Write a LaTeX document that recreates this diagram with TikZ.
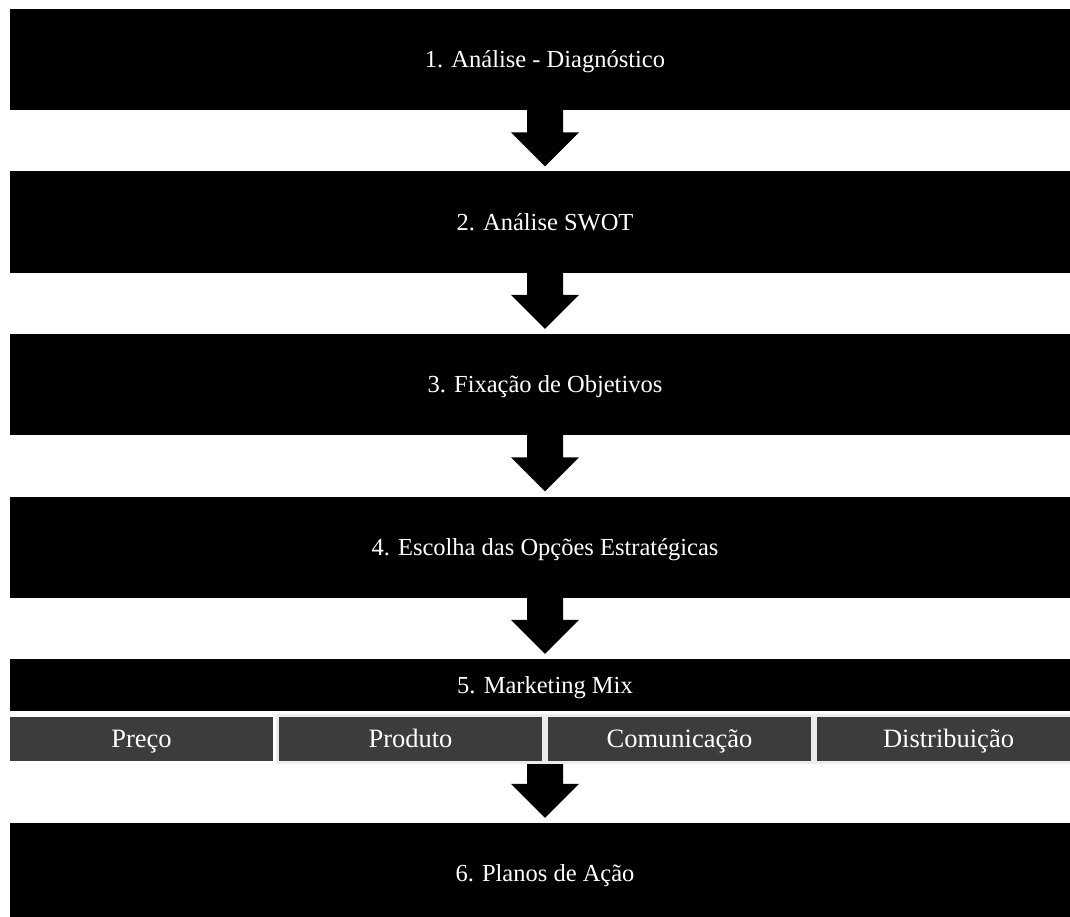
\documentclass[tikz,border=0pt]{standalone}
\usepackage{fontspec}
\setmainfont{Liberation Serif}
\usepackage{tikz}
\usetikzlibrary{calc}

\definecolor{mixgray}{HTML}{3C3C3C}
\definecolor{mixedge}{HTML}{ECECEC}

\tikzset{
    stagebox/.style={fill=black, text=white, inner sep=0pt, minimum width=1070pt,
        minimum height=101pt, text height=22pt, text depth=5.8pt,
        font=\fontsize{24.5}{28}\selectfont},
    mixcell/.style={fill=mixgray, text=white, inner sep=0pt, minimum width=263pt,
        minimum height=44pt, text height=23pt, text depth=5.5pt,
        font=\fontsize{26.5}{30}\selectfont},
    mixframed/.style={mixcell, draw=mixedge, line width=3pt, minimum width=266pt,
        minimum height=47pt},
}

\newcommand{\flowarrow}[2]{%
    \fill ($(#1)+(-18,0)$) |- ($(#2)+(-34,-39)$) -- ($(#2)+(0,-5)$)
        -- ($(#2)+(34,-39)$) -| ($(#1)+(18,0)$) -- cycle;}

\begin{document}
\begin{tikzpicture}[x=1pt, y=-1pt]
    \useasboundingbox (0, 0) rectangle (1070, 917); % page size
    \node[stagebox] (diag) at (545, 59.5) {1. Análise - Diagnóstico};
    \node[stagebox] (swot) at (545, 222) {2. Análise SWOT};
    \node[stagebox] (objet) at (545, 384.5) {3. Fixação de Objetivos};
    \node[stagebox] (estrat) at (545, 547) {4. Escolha das Opções Estratégicas};
    \node[stagebox, minimum height=52pt] (mix) at (545, 685) {5. Marketing Mix};
    \node[mixcell] (preco) at (141.5, 739) {Preço};
    \node[mixframed] (produto) at (410.5, 739) {Produto};
    \node[mixframed] (comunic) at (679.5, 739) {Comunicação};
    \node[mixframed] (distrib) at (948.5, 739) {Distribuição};
    \node[stagebox] (planos) at (545, 873.5) {6. Planos de Ação};

    \flowarrow{diag.south}{swot.north}
    \flowarrow{swot.south}{objet.north}
    \flowarrow{objet.south}{estrat.north}
    \flowarrow{estrat.south}{mix.north}
    \flowarrow{mix.center |- produto.south}{planos.north}
\end{tikzpicture}
\end{document}
